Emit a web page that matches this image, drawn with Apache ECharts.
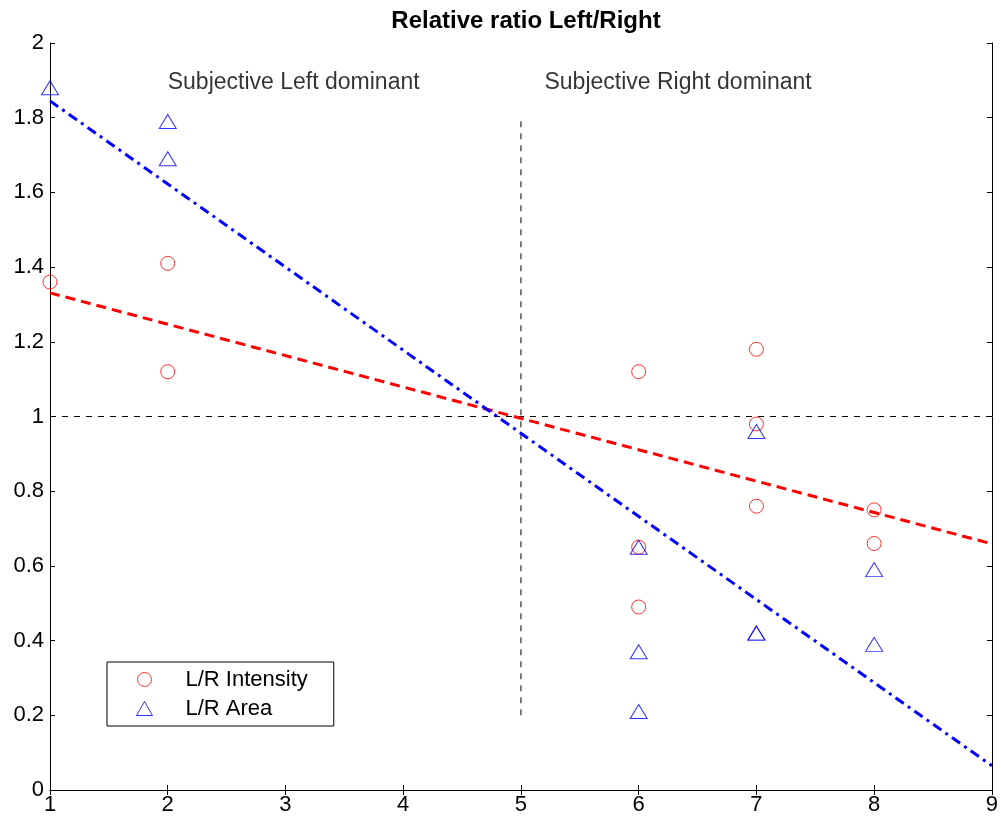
<!DOCTYPE html>
<html>
<head>
<meta charset="utf-8">
<script src="https://cdn.jsdelivr.net/npm/echarts@6/dist/echarts.min.js"></script>
<style>
html,body{margin:0;padding:0;background:#fff;}
#chart{width:1001px;height:822px;}
</style>
</head>
<body>
<div id="chart"></div>
<script>
// 数据
var intensityX = [1, 2, 2, 6, 6, 6, 7, 7, 7, 8, 8];
var intensityY = [1.36, 1.41, 1.12, 1.12, 0.65, 0.49, 1.18, 0.98, 0.76, 0.75, 0.66];
var areaX = [1, 2, 2, 6, 6, 6, 7, 7, 7, 8, 8];
var areaY = [1.88, 1.79, 1.69, 0.65, 0.37, 0.21, 0.96, 0.42, 0.42, 0.59, 0.39];
// 拟合线
var fitX = [1, 9];
var fitIntensity = [1.331, 0.659];
var fitArea = [1.845, 0.065];
// 参考线
var refHX = [1, 9], refHY = [1, 1];
var refVX = [5, 5], refVY = [0.2, 1.8];
// 文字标注
var noteText = ['Subjective Left dominant', 'Subjective Right dominant'];
var noteX = [2, 5.2];
var noteY = [1.895, 1.895];

function pairs(xs, ys){
	var out = [];
	for(var i=0;i<xs.length;i++){
		out.push([xs[i], ys[i]]);
	}
	return out;
}

var font = 'Liberation Sans, Arial, sans-serif';
var chart = echarts.init(document.getElementById('chart'));
var axisLine = {show:true, lineStyle:{color:'#000', width:1}};
var tick = {show:true, inside:true, length:5, lineStyle:{color:'#000'}};

var option = {
	animation:false,
	backgroundColor:'#fff',
	title:{
		text:'Relative ratio Left/Right',
		left:521, top:4, textAlign:'center',
		textStyle:{fontFamily:font, fontSize:24, fontWeight:'bold', color:'#000'}
	},
	grid:{left:50, right:7, top:43, bottom:32, containLabel:false},
	legend:{
		orient:'vertical',
		left:107, top:662,
		padding:[5, 26, 5, 29],
		itemGap:4,
		itemWidth:16, itemHeight:14,
		borderColor:'#000', borderWidth:1,
		backgroundColor:'#fff',
		textStyle:{fontFamily:font, fontSize:22, lineHeight:25, color:'#000', padding:[0,0,0,28]},
		data:[
			{name:'L/R Intensity', icon:'circle', itemStyle:{color:'rgba(0,0,0,0)', borderColor:'#ff0000', borderWidth:1}},
			{name:'L/R Area', icon:'triangle', itemStyle:{color:'rgba(0,0,0,0)', borderColor:'#0000ff', borderWidth:1}}
		]
	},
	xAxis:[
		{type:'value', min:1, max:9, interval:1, position:'bottom',
		 axisLine:axisLine, axisTick:tick, splitLine:{show:false},
		 axisLabel:{fontFamily:font, fontSize:22, color:'#000', margin:4}},
		{type:'value', min:1, max:9, interval:1, position:'top',
		 axisLine:axisLine, axisTick:tick, splitLine:{show:false}, axisLabel:{show:false}}
	],
	yAxis:[
		{type:'value', min:0, max:2, interval:0.2, position:'left',
		 axisLine:axisLine, axisTick:tick, splitLine:{show:false},
		 axisLabel:{fontFamily:font, fontSize:22, color:'#000', margin:6}},
		{type:'value', min:0, max:2, interval:0.2, position:'right',
		 axisLine:axisLine, axisTick:tick, splitLine:{show:false}, axisLabel:{show:false}}
	],
	series:[
		{
			name:'ref-h', type:'line', data:pairs(refHX, refHY), symbol:'none', silent:true,
			lineStyle:{color:'#000', width:1, type:[6,6]}
		},
		{
			name:'ref-v', type:'line', data:pairs(refVX, refVY), symbol:'none', silent:true,
			lineStyle:{color:'#000', width:1, type:[6,6]}
		},
		{
			name:'L/R Intensity', type:'scatter', data:pairs(intensityX, intensityY),
			symbol:'circle', symbolSize:14,
			itemStyle:{color:'rgba(0,0,0,0)', borderColor:'#ff0000', borderWidth:1}
		},
		{
			name:'L/R Area', type:'scatter', data:pairs(areaX, areaY),
			symbol:'triangle', symbolSize:[17,14],
			itemStyle:{color:'rgba(0,0,0,0)', borderColor:'#0000ff', borderWidth:1}
		},
		{
			name:'fit-intensity', type:'line', data:pairs(fitX, fitIntensity), symbol:'none',
			lineStyle:{color:'#ff0000', width:3, type:[10,6]}
		},
		{
			name:'fit-area', type:'line', data:pairs(fitX, fitArea), symbol:'none',
			lineStyle:{color:'#0000ff', width:3, type:[10,5,3,5]}
		},
		{
			name:'notes', type:'scatter', symbolSize:0, silent:true,
			data:pairs(noteX, noteY).map(function(p, i){
				return {value:p, label:{formatter:noteText[i]}};
			}),
			label:{show:true, position:'right', distance:0, fontFamily:font, fontSize:23, color:'#000', textBorderWidth:0}
		}
	]
};
chart.setOption(option);
</script>
</body>
</html>
